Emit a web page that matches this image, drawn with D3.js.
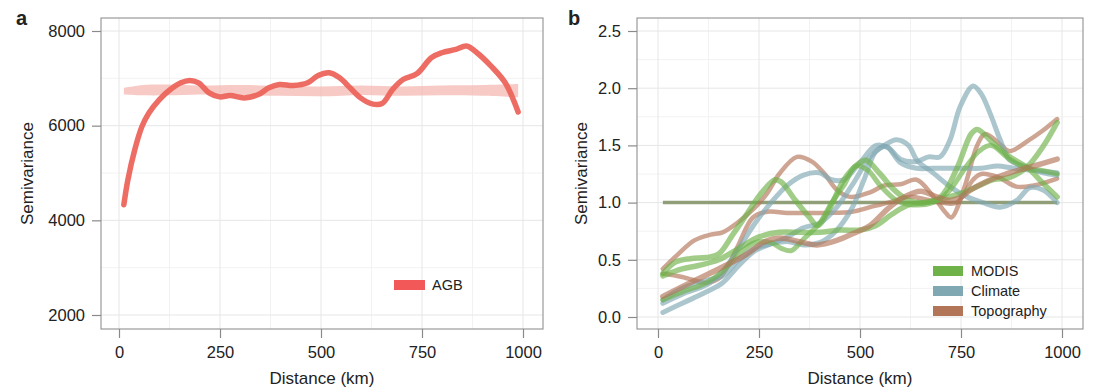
<!DOCTYPE html>
<html><head><meta charset="utf-8">
<script src="https://cdn.jsdelivr.net/npm/d3@7"></script>
<style>
body{margin:0;background:#fff;}
svg text{font-family:"Liberation Sans",Arial,sans-serif;fill:#222;}
</style></head>
<body><svg id="c" width="1101" height="392"></svg>
<script>
// ---------- Panel a data ----------
const agbDistance = [12,22,39,57,74,100,127,153,175,197,223,249,275,310,345,371,397,432,467,493,520,546,572,598,624,651,677,703,738,773,799,834,860,886,921,956,988];
const agbSemivariance = [4330,4855,5491,5986,6269,6551,6763,6905,6954,6905,6693,6608,6636,6587,6657,6799,6869,6848,6905,7060,7117,7011,6799,6587,6467,6467,6763,6975,7103,7435,7541,7611,7682,7541,7258,6905,6290];
const bandDistance = [12,60,120,200,300,400,500,600,700,800,900,988];
const bandUpper = [6800,6860,6870,6850,6860,6840,6830,6850,6830,6850,6860,6880];
const bandLower = [6660,6640,6640,6660,6640,6630,6620,6650,6630,6640,6630,6600];
const aYTicks = [2000,4000,6000,8000];
const xTicks = [0,250,500,750,1000];

// ---------- Panel b data ----------
const bSeriesNames = ["MODIS","Climate","Topography"];
const modis1 = [[12,0.38],[43,0.48],[80,0.51],[120,0.52],[150,0.55],[185,0.72],[220,0.9],[255,1.08],[290,1.2],[305,1.18],[340,1.02],[375,0.87],[395,0.8],[425,0.95],[460,1.2],[496,1.34],[515,1.37],[550,1.25],[585,1.11],[620,1.02],[660,1.0],[700,1.05],[740,1.3],[775,1.6],[790,1.64],[830,1.52],[870,1.4],[913,1.31],[953,1.17],[988,1.05]];
const modis2 = [[12,0.15],[60,0.22],[120,0.3],[160,0.4],[200,0.55],[240,0.65],[280,0.65],[305,0.6],[330,0.58],[360,0.68],[400,0.82],[430,1.0],[460,1.15],[490,1.32],[520,1.28],[550,1.15],[590,1.02],[630,0.98],[680,1.0],[720,1.1],[760,1.3],[795,1.45],[825,1.5],[870,1.38],[913,1.3],[950,1.28],[988,1.25]];
const modis3 = [[12,0.36],[60,0.42],[100,0.45],[150,0.5],[200,0.6],[250,0.7],[300,0.74],[350,0.74],[400,0.74],[450,0.76],[500,0.76],[540,0.8],[580,0.9],[620,0.98],[660,1.0],[700,1.03],[750,1.08],[790,1.14],[830,1.2],[870,1.22],[913,1.31],[953,1.49],[988,1.70]];
const climate1 = [[12,0.12],[60,0.2],[120,0.28],[160,0.4],[200,0.6],[240,0.82],[280,1.0],[320,1.15],[360,1.24],[400,1.26],[430,1.2],[460,1.2],[500,1.35],[540,1.5],[570,1.48],[600,1.38],[640,1.36],[670,1.4],[698,1.4],[723,1.55],[748,1.84],[780,2.02],[800,1.95],[822,1.78],[847,1.55],[871,1.37],[913,1.31],[953,1.26],[988,1.24]];
const climate2 = [[12,0.04],[60,0.12],[120,0.22],[160,0.3],[200,0.45],[240,0.58],[280,0.64],[320,0.7],[360,0.78],[400,0.82],[440,0.95],[480,1.15],[525,1.40],[560,1.5],[590,1.55],[620,1.5],[641,1.37],[681,1.26],[723,1.14],[765,1.05],[805,1.0],[847,0.96],[888,1.02],[921,1.13],[953,1.11],[988,1.0]];
const climate3 = [[12,0.15],[60,0.25],[120,0.32],[160,0.36],[200,0.5],[240,0.6],[280,0.64],[320,0.66],[360,0.63],[400,0.65],[440,0.75],[480,0.95],[510,1.2],[540,1.45],[565,1.49],[600,1.35],[640,1.3],[680,1.3],[720,1.3],[760,1.3],[800,1.3],[840,1.32],[880,1.3],[930,1.28],[988,1.26]];
const topo1 = [[12,0.42],[50,0.55],[90,0.67],[130,0.72],[160,0.74],[195,0.82],[235,0.94],[270,1.08],[300,1.25],[344,1.40],[380,1.36],[410,1.26],[443,1.11],[475,1.05],[525,1.09],[560,1.15],[600,1.16],[640,1.2],[680,1.06],[710,0.92],[726,0.87],[760,1.15],[790,1.5],[810,1.6],[850,1.5],[870,1.45],[920,1.55],[960,1.65],[988,1.73]];
const topo2 = [[12,0.18],[80,0.3],[150,0.42],[220,0.55],[260,0.65],[300,0.69],[360,0.65],[393,0.63],[443,0.67],[483,0.73],[525,0.8],[570,0.95],[610,1.05],[650,1.1],[690,1.05],[720,1.02],[750,1.05],[774,1.11],[817,1.19],[861,1.25],[930,1.32],[988,1.38]];
const topo3 = [[12,0.38],[60,0.35],[120,0.30],[155,0.35],[195,0.6],[235,0.87],[270,0.92],[320,0.91],[370,0.91],[420,0.91],[480,0.92],[525,0.96],[570,1.0],[620,1.05],[660,1.03],[700,1.0],[740,1.0],[780,1.2],[800,1.25],[843,1.22],[887,1.14],[930,1.15],[988,1.21]];
const sillLine = [[12,1.0],[988,1.0]];
const bYTicks = [0,0.5,1,1.5,2,2.5];

const svg = d3.select("#c");
const gridMajor = "#e6e6e6", gridMinor = "#f2f2f2";
const FS = 16.5;

function panel(opt){
  const g = svg.append("g");
  const x = d3.scaleLinear().domain([0,1000]).range(opt.xr);
  const y = d3.scaleLinear().domain(opt.yd).range(opt.yr);
  const [L,R] = opt.box[0], [T,B] = opt.box[1];
  opt.xMinor.forEach(v=>g.append("line").attr("x1",x(v)).attr("x2",x(v)).attr("y1",T).attr("y2",B).attr("stroke",gridMinor));
  opt.yMinor.forEach(v=>g.append("line").attr("y1",y(v)).attr("y2",y(v)).attr("x1",L).attr("x2",R).attr("stroke",gridMinor));
  xTicks.forEach(v=>g.append("line").attr("x1",x(v)).attr("x2",x(v)).attr("y1",T).attr("y2",B).attr("stroke",gridMajor));
  opt.yTicks.forEach(v=>g.append("line").attr("y1",y(v)).attr("y2",y(v)).attr("x1",L).attr("x2",R).attr("stroke",gridMajor));
  g.append("rect").attr("x",L).attr("y",T).attr("width",R-L).attr("height",B-T).attr("fill","none").attr("stroke","#9a9a9a").attr("stroke-width",1.2);
  const xa = d3.axisBottom(x).tickValues(xTicks).tickSize(9).tickPadding(8).tickFormat(d3.format("d"));
  const xg = g.append("g").attr("transform",`translate(0,${B})`).call(xa);
  const ya = d3.axisLeft(y).tickValues(opt.yTicks).tickSize(9).tickPadding(7).tickFormat(opt.yFmt);
  const yg = g.append("g").attr("transform",`translate(${L},0)`).call(ya);
  [xg,yg].forEach(a=>{a.select(".domain").remove();a.selectAll("line").attr("stroke","#8a8a8a").attr("stroke-width",1.2);a.selectAll("text").attr("font-size",FS).attr("fill","#222").style("font-family","Liberation Sans, Arial, sans-serif");});
  g.append("text").attr("x",(L+R)/2).attr("y",384).attr("text-anchor","middle").attr("font-size",17).text("Distance (km)");
  g.append("text").attr("transform",`translate(${opt.ylabX},${(T+B)/2}) rotate(-90)`).attr("text-anchor","middle").attr("font-size",17).text("Semivariance");
  g.append("text").attr("x",opt.letterX).attr("y",25).attr("font-size",20).attr("font-weight","bold").text(opt.letter);
  return {g,x,y};
}

// Panel a
const A = panel({xr:[119,523], yd:[2000,8000], yr:[315,31], box:[[101,543],[18,329]],
  xMinor:[125,375,625,875], yMinor:[3000,5000,7000], yTicks:aYTicks, yFmt:d3.format("d"),
  ylabX:33, letterX:16, letter:"a"});
const band = bandDistance.map((d,i)=>({d,u:bandUpper[i],l:bandLower[i]}));
A.g.append("path").datum(band)
  .attr("d",d3.area().x(p=>A.x(p.d)).y0(p=>A.y(p.l)).y1(p=>A.y(p.u)).curve(d3.curveCatmullRom))
  .attr("fill","#f4b3ae").attr("opacity",0.7);
const agb = agbDistance.map((d,i)=>[d,agbSemivariance[i]]);
A.g.append("path").datum(agb)
  .attr("d",d3.line().x(p=>A.x(p[0])).y(p=>A.y(p[1])).curve(d3.curveCatmullRom.alpha(0.5)))
  .attr("fill","none").attr("stroke","#ec645c").attr("stroke-width",5.5).attr("stroke-linecap","round").attr("opacity",0.95);
A.g.append("rect").attr("x",394).attr("y",280).attr("width",31).attr("height",10).attr("fill","#f25858");
A.g.append("text").attr("x",432).attr("y",290).attr("font-size",14.5).text("AGB");

// Panel b
const B = panel({xr:[658,1062], yd:[0,2.5], yr:[317,31], box:[[637,1083],[18,329]],
  xMinor:[125,375,625,875], yMinor:[0.25,0.75,1.25,1.75,2.25], yTicks:bYTicks, yFmt:d3.format(".1f"),
  ylabX:587, letterX:568, letter:"b"});
const colors = {MODIS:"#6fb24a", Climate:"#7fa8b3", Topography:"#b27558"};
const bLine = d3.line().x(p=>B.x(p[0])).y(p=>B.y(p[1])).curve(d3.curveCatmullRom.alpha(0.5));
const series = [
  {s:"Topography",d:topo1,w:4.5},{s:"Topography",d:topo3,w:4.5},
  {s:"Climate",d:climate3,w:5},{s:"Climate",d:climate2,w:5},{s:"Climate",d:climate1,w:5},
  {s:"MODIS",d:modis3,w:5.5},{s:"MODIS",d:modis2,w:5},{s:"MODIS",d:modis1,w:5.5},
  {s:"Topography",d:topo2,w:5.5}
];
B.g.append("path").datum(sillLine).attr("d",bLine).attr("fill","none").attr("stroke","#86966a").attr("stroke-width",3.5).attr("opacity",0.9);
series.forEach(o=>B.g.append("path").datum(o.d).attr("d",bLine).attr("fill","none")
  .attr("stroke",colors[o.s]).attr("stroke-width",o.w).attr("stroke-linecap","round").attr("opacity",0.65));
bSeriesNames.forEach((n,i)=>{
  B.g.append("rect").attr("x",933).attr("y",266+i*20).attr("width",30).attr("height",10).attr("fill",colors[n]);
  B.g.append("text").attr("x",971).attr("y",276+i*20).attr("font-size",14.5).text(n);
});
</script></body></html>
